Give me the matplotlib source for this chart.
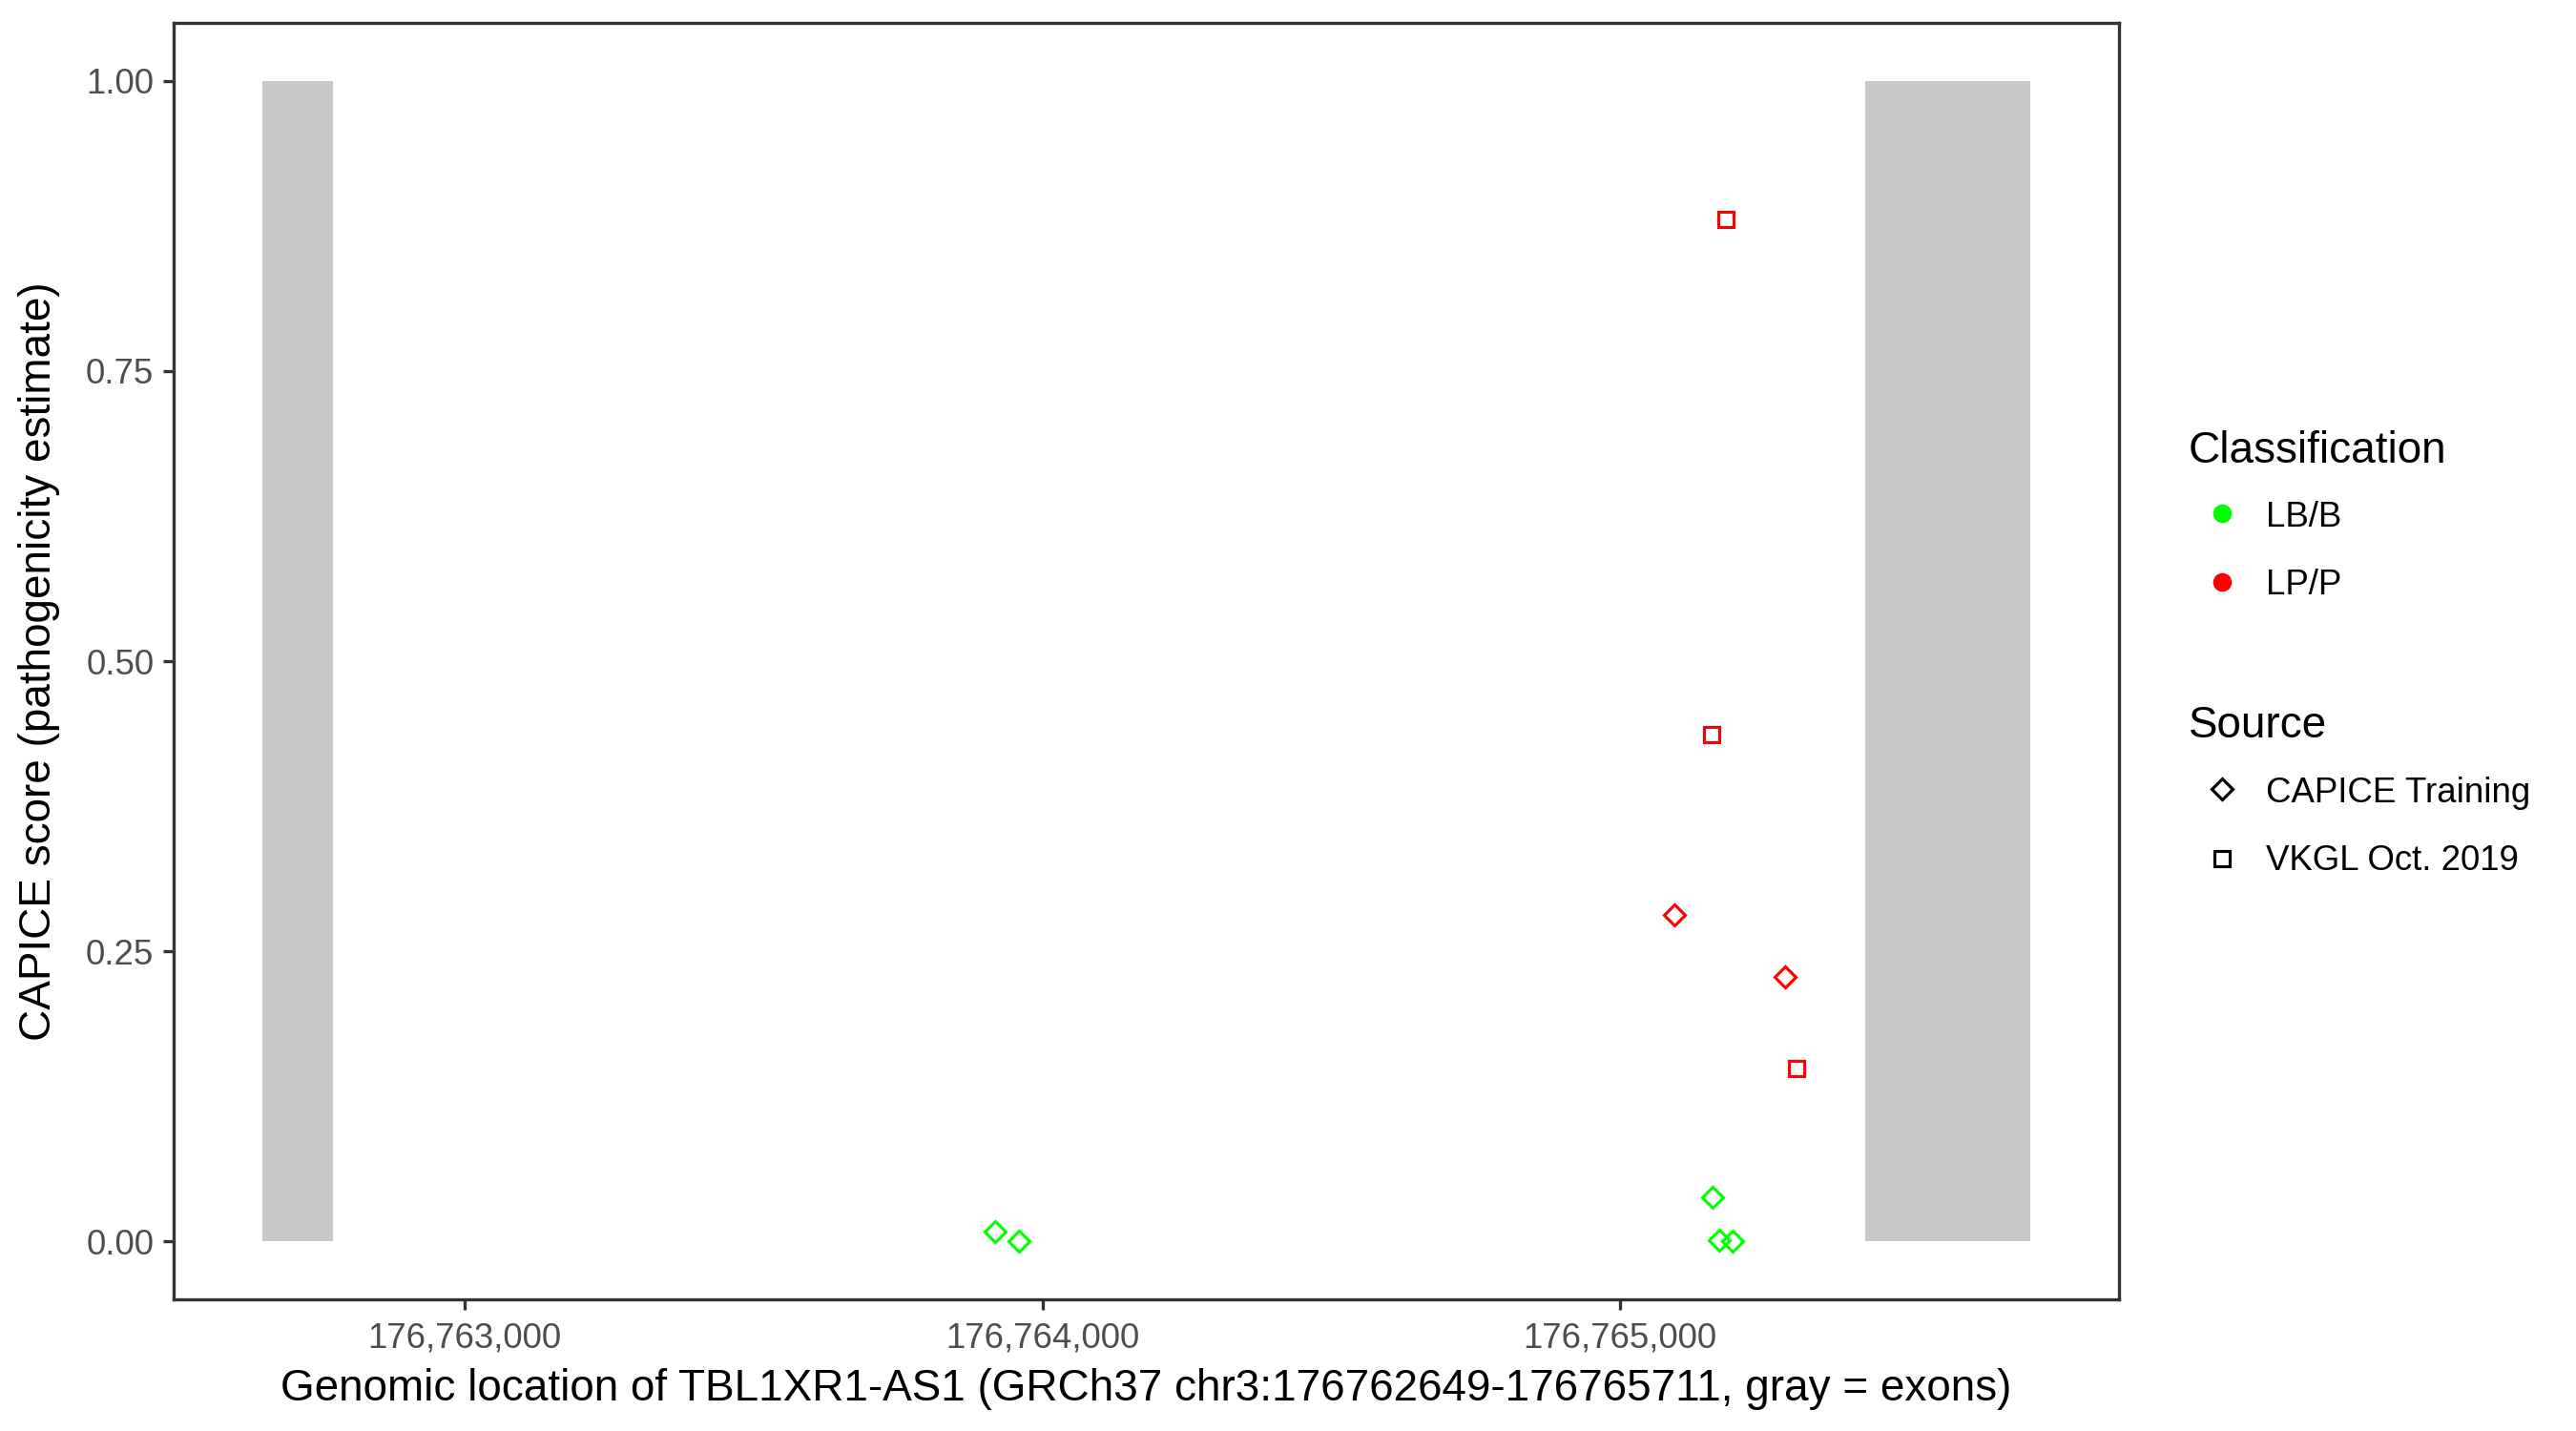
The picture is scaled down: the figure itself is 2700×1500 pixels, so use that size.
import numpy as np
import matplotlib
matplotlib.use("Agg")
import matplotlib.pyplot as plt
from matplotlib.lines import Line2D
from matplotlib.ticker import FuncFormatter

plt.rcParams['font.family'] = ['Liberation Sans', 'DejaVu Sans']

# exons of TBL1XR1-AS1 (gray bars)
exon_start = [176762649, 176765425]
exon_end = [176762771, 176765711]

# variants
position = [176763918, 176763959, 176765160, 176765172, 176765195,
            176765094, 176765286, 176765183, 176765159, 176765305]
score = [0.008, 0.0, 0.038, 0.001, 0.0,
         0.281, 0.228, 0.881, 0.437, 0.149]
classification = ['LB/B', 'LB/B', 'LB/B', 'LB/B', 'LB/B',
                  'LP/P', 'LP/P', 'LP/P', 'LP/P', 'LP/P']
source = ['CAPICE Training'] * 7 + ['VKGL Oct. 2019'] * 3

class_names = ['LB/B', 'LP/P']
class_colors = {'LB/B': '#00FF00', 'LP/P': '#FF0000'}
source_names = ['CAPICE Training', 'VKGL Oct. 2019']
source_markers = {'CAPICE Training': ('D', 3.75), 'VKGL Oct. 2019': ('s', 3.85)}

y_ticks = [0.0, 0.25, 0.50, 0.75, 1.00]
x_ticks = [176763000, 176764000, 176765000]

W, H = 2700, 1500
fig = plt.figure(figsize=(9, 5), dpi=300)

# panel placed in pixels
left, right, top, bottom = 182, 2221, 24, 1362
ax = fig.add_axes([left / W, 1 - bottom / H, (right - left) / W, (bottom - top) / H])

starts = np.array(exon_start)
ends = np.array(exon_end)
ax.bar(starts, np.ones(len(starts)), width=ends - starts, bottom=0, align='edge',
       color='#C8C8C8', linewidth=0, zorder=1)

pos = np.array(position)
sc = np.array(score)
cl = np.array(classification)
src = np.array(source)
for s in source_names:
    for c in class_names:
        m = (src == s) & (cl == c)
        if not m.any():
            continue
        mk, ms = source_markers[s]
        ax.plot(pos[m], sc[m], linestyle='none', marker=mk, markersize=ms,
                markerfacecolor='none', markeredgecolor=class_colors[c],
                markeredgewidth=0.75, zorder=3)

span = exon_end[-1] - exon_start[0]
ax.set_xlim(exon_start[0] - 0.05 * span, exon_end[-1] + 0.05 * span)
ax.set_ylim(-0.05, 1.05)
ax.set_xticks(x_ticks)
ax.set_yticks(y_ticks)
ax.xaxis.set_major_formatter(FuncFormatter(lambda v, p: f"{int(round(v)):,}"))
ax.yaxis.set_major_formatter(FuncFormatter(lambda v, p: f"{v:.2f}"))

for sp in ax.spines.values():
    sp.set_color('#333333')
    sp.set_linewidth(0.8)
ax.tick_params(axis='both', length=2.75, width=0.8, color='#333333',
               labelsize=8.8, labelcolor='#4D4D4D')
ax.tick_params(axis='x', pad=2.9)
ax.tick_params(axis='y', pad=2.2)

ax.set_xlabel('Genomic location of TBL1XR1-AS1 (GRCh37 chr3:176762649-176765711, gray = exons)',
              fontsize=11, color='black', labelpad=3.3)
ax.set_ylabel('CAPICE score (pathogenicity estimate)', fontsize=11, color='black', va='center')
ax.yaxis.set_label_coords((41 - left) / (right - left), 0.5)


# legends, positioned in pixels
def fx(x):
    return x / W


def fy(y):
    return 1 - y / H


fig.text(fx(2294), fy(485), 'Classification', fontsize=11, va='baseline', ha='left')
for name, ky, by in zip(class_names, [538, 610], [552, 623]):
    fig.add_artist(Line2D([fx(2329)], [fy(ky)], transform=fig.transFigure, linestyle='none',
                          marker='o', markersize=4.4, markerfacecolor=class_colors[name],
                          markeredgecolor=class_colors[name], markeredgewidth=0.3))
    fig.text(fx(2375), fy(by), name, fontsize=8.8, va='baseline', ha='left')

fig.text(fx(2294), fy(773), 'Source', fontsize=11, va='baseline', ha='left')
for name, ky, by in zip(source_names, [827, 900], [841, 912]):
    mk, ms = source_markers[name]
    fig.add_artist(Line2D([fx(2329)], [fy(ky)], transform=fig.transFigure, linestyle='none',
                          marker=mk, markersize=ms, markerfacecolor='none',
                          markeredgecolor='black', markeredgewidth=0.75))
    fig.text(fx(2375), fy(by), name, fontsize=8.8, va='baseline', ha='left')

fig.savefig('out.png', dpi=300, facecolor='white')
